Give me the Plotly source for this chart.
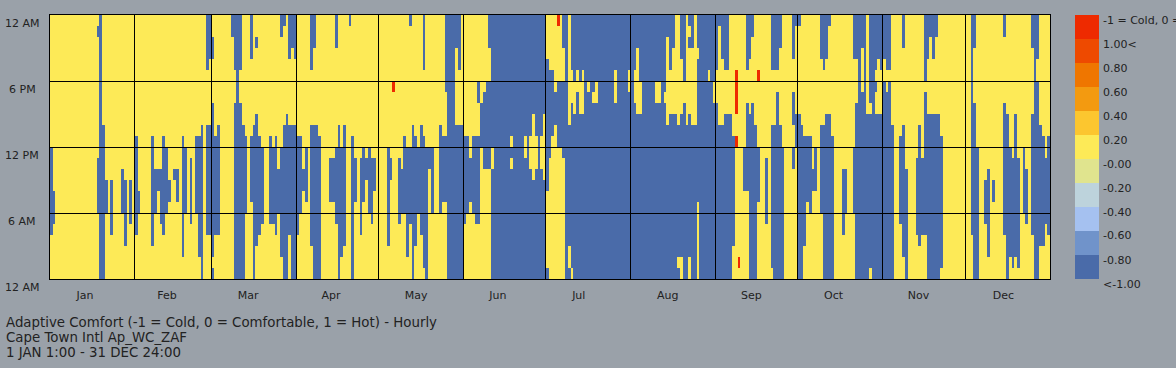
import plotly.graph_objects as go

# Day-of-year spans: (first day, last day, hour from, hour to)
cold_spans = [
 (0,0,4,12),(1,1,5,8),(17,17,22,23),(17,17,6,11),(18,18,0,24),(19,19,0,14),(20,20,6,9),(22,22,4,9),
 (26,26,6,10),(27,27,3,9),(29,29,5,9),(31,31,4,13),(32,32,6,8),(37,37,3,13),(38,38,6,10),(39,39,8,10),
 (40,40,5,10),(41,41,4,13),(42,42,6,12),(43,43,7,9),(45,45,9,10),(46,46,7,10),(48,48,2,13),(49,49,6,12),
 (51,51,5,11),(53,53,6,13),(54,54,2,13),(55,55,0,14),(57,57,4,14),(57,57,19,24),(58,58,4,14),(58,58,20,24),
 (59,59,0,1),(59,59,2,16),(59,59,20,22),(60,60,4,13),(61,61,4,14),
 (66,66,22,24),(67,67,0,16),(67,67,19,24),(68,68,0,24),(69,69,0,16),(69,69,19,24),(70,70,0,14),(71,71,6,13),
 (73,73,20,24),(73,73,7,13),(75,75,21,22),(74,74,0,14),(75,75,3,15),(76,76,4,13),(77,77,5,12),(80,80,5,13),
 (81,81,5,12),(82,82,4,13),(83,83,6,10),(84,84,2,12),(84,84,22,24),(85,85,0,14),(85,85,23,24),(86,86,0,15),
 (87,87,4,14),(87,87,20,24),(88,88,0,14),(88,88,21,24),(89,89,0,14),(89,89,20,24),
 (90,90,4,13),(91,91,6,13),(92,92,8,10),(93,93,7,12),(95,95,3,14),(95,95,19,24),(96,96,0,14),(96,96,21,24),
 (97,97,0,14),(98,98,0,13),(102,103,7,11),(104,104,5,12),(104,104,21,24),(105,105,0,14),(106,106,2,12),
 (107,107,3,14),(109,109,23,24),(110,110,0,13),(111,111,7,11),(113,113,4,11),(114,114,7,12),(115,115,9,11),
 (116,116,6,12),(117,117,5,11),(118,118,8,11),
 (123,123,3,12),(124,124,9,11),(127,127,5,11),(128,128,6,10),(129,129,6,13),(130,130,2,12),(131,131,5,12),
 (131,131,23,24),(132,132,0,14),(133,133,3,13),(134,134,6,12),(135,135,4,14),(136,136,1,13),(136,136,19,24),
 (137,137,0,12),(138,138,10,12),(139,139,6,12),(142,142,6,14),(143,143,7,13),(144,144,7,13),(144,144,17,24),
 (145,147,0,24),(148,148,0,14),(148,148,21,24),(149,149,0,14),(149,149,19,24),(150,150,0,14),
 (151,151,5,13),(152,152,6,13),(153,153,7,11),(154,154,6,13),(155,155,5,13),(156,156,5,13),(156,156,16,18),
 (157,157,12,16),(158,158,10,17),(159,159,10,18),(160,160,10,18),(160,160,21,24),(161,242,0,24),
 (243,243,0,16),(243,243,19,24),(244,244,0,14),(244,244,23,24),(245,245,0,14),(245,245,20,24),
 (246,247,0,15),(246,247,19,24),(248,248,0,15),(249,249,3,13),(253,253,8,12),(254,254,8,16),(254,254,19,24),
 (255,255,0,15),(255,255,20,24),(256,256,0,16),(256,256,22,24),(257,257,0,14),(258,258,7,12),(261,261,5,11),
 (263,263,1,14),(263,263,19,24),(264,264,0,14),(264,264,19,24),(265,265,0,17),(265,265,19,24),(266,266,0,14),
 (266,266,21,24),(267,267,0,12),(271,271,10,12),(271,271,14,17),(271,271,20,24),(272,272,12,15),(272,272,23,24),
 (273,273,0,15),(273,273,23,24),(274,274,0,14),(275,275,3,13),(276,276,7,13),(277,277,6,13),(278,278,8,10),
 (279,279,8,12),(281,281,6,14),(281,281,20,24),(282,282,0,14),(282,282,19,24),(283,283,0,15),(283,283,20,24),
 (284,284,0,15),(284,284,23,24),(285,285,0,13),(289,289,4,10),(290,290,6,10),(293,293,6,12),(293,293,20,24),
 (294,294,0,16),(294,294,20,24),(295,295,0,24),(296,296,0,17),(296,296,21,24),(297,297,0,24),(298,298,0,15),
 (299,299,1,15),(299,299,16,24),(300,300,0,24),(301,301,0,15),(301,301,17,18),(301,301,19,24),(302,302,0,15),
 (302,302,20,24),(303,303,0,15),(303,303,19,24),
 (304,304,0,18),(304,304,20,24),(305,305,0,17),(305,305,19,24),(306,306,0,18),(306,306,19,24),(307,307,0,14),
 (310,310,5,13),(311,311,2,14),(311,311,21,24),(312,312,0,10),(316,316,4,11),(317,317,3,14),(318,318,4,11),
 (319,319,4,17),(319,319,18,24),(320,323,0,15),(320,320,20,24),(321,321,22,24),(322,322,20,24),(323,323,22,24),
 (324,324,0,15),(325,325,1,13),
 (336,336,4,24),(337,337,0,16),(337,337,21,24),(338,338,0,12),(341,341,5,9),(342,342,2,10),(344,344,7,9),
 (348,348,22,24),(348,348,4,16),(349,349,0,15),(350,350,2,12),(351,351,1,11),(352,352,2,15),(353,353,1,11),
 (355,355,6,12),(356,356,5,10),(358,358,4,15),(358,358,21,24),(359,359,0,24),(360,360,0,18),(360,360,20,24),
 (361,361,3,14),(362,362,3,13),(363,363,5,11),(364,364,4,13),
]
# Comfortable pockets inside the winter cold block
comfort_spans = [
 (161,161,10,12),(168,168,12,13),(168,168,10,11),(173,173,11,13),(175,175,10,13),(176,176,9,15),(177,177,10,13),
 (179,179,10,13),(180,180,9,15),
 (181,181,1,8),(181,181,20,24),(182,182,0,11),(182,182,19,24),(183,183,0,13),(183,183,19,24),(184,184,0,14),
 (184,184,17,24),(185,185,0,12),(185,185,18,24),(186,186,0,12),(186,186,18,24),(187,187,0,11),(187,187,18,21),
 (189,189,1,3),(189,189,14,24),(190,190,0,1),(190,190,16,19),(191,191,15,18),(192,192,17,19),(193,193,15,18),
 (194,194,15,19),(196,196,17,18),(198,198,16,17),(199,199,16,18),(206,206,16,19),(211,211,17,19),
 (213,213,16,19),(214,214,15,21),(215,215,15,18),(221,222,16,18),(224,224,16,17),(225,225,14,22),(226,226,15,19),
 (227,227,15,21),(228,228,15,24),(229,229,14,24),(230,230,15,20),(231,231,16,18),(232,232,14,24),(233,233,15,21),
 (233,233,22,23),(234,234,14,21),(235,235,14,24),(236,236,20,21),(229,229,1,2),(230,230,0,2),(233,233,0,2),
 (236,236,0,7),(240,240,18,19),(242,242,16,18),
]
hot_spans = [(125,125,17,18),(185,185,23,24),(250,250,12,13),(250,250,15,19),(251,251,1,2),(258,258,18,19)]

COLD, COMFORT, HOT = -1, 0, 1
month_labels = ["Jan","Feb","Mar","Apr","May","Jun","Jul","Aug","Sep","Oct","Nov","Dec"]
month_label_days = [12.8,42.7,72.3,102.6,133.6,163.5,193,225.5,256,286,317,348]
month_starts = [31,59,90,120,151,181,212,243,273,304,334]
hour_lines = [6,12,18]
hour_labels = ["12 AM","6 AM","12 PM","6 PM","12 AM"]
hour_label_vals = [0,6,12,18,24]
title_lines = ["Adaptive Comfort (-1 = Cold, 0 = Comfortable, 1 = Hot) - Hourly",
               "Cape Town Intl Ap_WC_ZAF","1 JAN 1:00 - 31 DEC 24:00"]
legend_colors = ["#4a6ba9","#7093ca","#a5c1f0","#bdd3dc","#e0e48e","#fdea57","#fcc62f","#f39a10","#ef7600","#ee4a00","#ee2a00"]
legend_vals = [-1,-0.8,-0.6,-0.4,-0.2,0,0.2,0.4,0.6,0.8,1.0,1.2]
legend_text = ["<-1.00","-0.80","-0.60","-0.40","-0.20","-0.00","0.20","0.40","0.60","0.80","1.00<",
               "-1 = Cold, 0 = Comfortable, 1 = Hot"]

z = [[COMFORT]*365 for _ in range(24)]
for spans, val in ((cold_spans,COLD),(comfort_spans,COMFORT),(hot_spans,HOT)):
    for d0,d1,h0,h1 in spans:
        for h in range(h0,h1):
            for d in range(d0,d1+1):
                z[h][d] = val

n = len(legend_colors)
scale = []
for i,c in enumerate(legend_colors):
    scale += [[i/n,c],[(i+1)/n,c]]

INK = "#222222"
BG = "#9aa1a9"
FONT = "DejaVu Sans"
fig = go.Figure(go.Heatmap(
    z=z, x=[d+0.5 for d in range(365)], y=[h+0.5 for h in range(24)],
    zmin=-1, zmax=1.2, colorscale=scale,
    colorbar=dict(x=1.025, xanchor="left", y=0.5, yanchor="middle", len=1, lenmode="fraction",
                  thickness=24, thicknessmode="pixels", outlinewidth=0, xpad=0, ypad=0,
                  tickmode="array", tickvals=legend_vals, showticklabels=False, ticks=""),
))
for m in month_starts:
    fig.add_shape(type="line",x0=m,x1=m,y0=0,y1=24,line=dict(color="black",width=1),layer="above")
for h in hour_lines:
    fig.add_shape(type="line",x0=0,x1=365,y0=h,y1=h,line=dict(color="black",width=1),layer="above")
for v,t in zip(hour_label_vals,hour_labels):
    fig.add_annotation(text=t,xref="paper",x=-0.028,xanchor="center",yref="y",y=v,yanchor="middle",yshift=-8.5,
                       showarrow=False,font=dict(family=FONT,size=11,color=INK))
for v,t in zip(legend_vals,legend_text):
    fig.add_annotation(text=t,xref="paper",yref="paper",x=1.051,xanchor="left",
                       y=(v-legend_vals[0])/(legend_vals[-1]-legend_vals[0]),yanchor="middle",yshift=-5,
                       showarrow=False,font=dict(family=FONT,size=11,color=INK))
for i,t in enumerate(title_lines):
    fig.add_annotation(text=t,xref="paper",yref="paper",x=-0.0465,xanchor="left",
                       y=-(322+i*15.3-279)/264,yanchor="middle",showarrow=False,
                       font=dict(family=FONT,size=13.35,color=INK))
fig.update_layout(
    width=1176,height=368,margin=dict(l=50,r=126,t=15,b=89,autoexpand=False),
    paper_bgcolor=BG,plot_bgcolor=BG,
    font=dict(family=FONT,size=11,color=INK),
    xaxis=dict(range=[0,365],tickmode="array",tickvals=month_label_days,ticktext=month_labels,
               showgrid=False,zeroline=False,ticks="",ticklabelstandoff=6,
               showline=True,mirror=True,linecolor="black",linewidth=1),
    yaxis=dict(range=[0,24],showticklabels=False,showgrid=False,zeroline=False,ticks="",
               showline=True,mirror=True,linecolor="black",linewidth=1),
)
fig.write_html("out.html",config={"displayModeBar":False},
    post_script="document.body.style.margin='0';document.body.style.background='%s';document.documentElement.style.overflow='hidden';document.querySelectorAll('.shapelayer path').forEach(p=>p.style.shapeRendering='crispEdges');"%BG)
